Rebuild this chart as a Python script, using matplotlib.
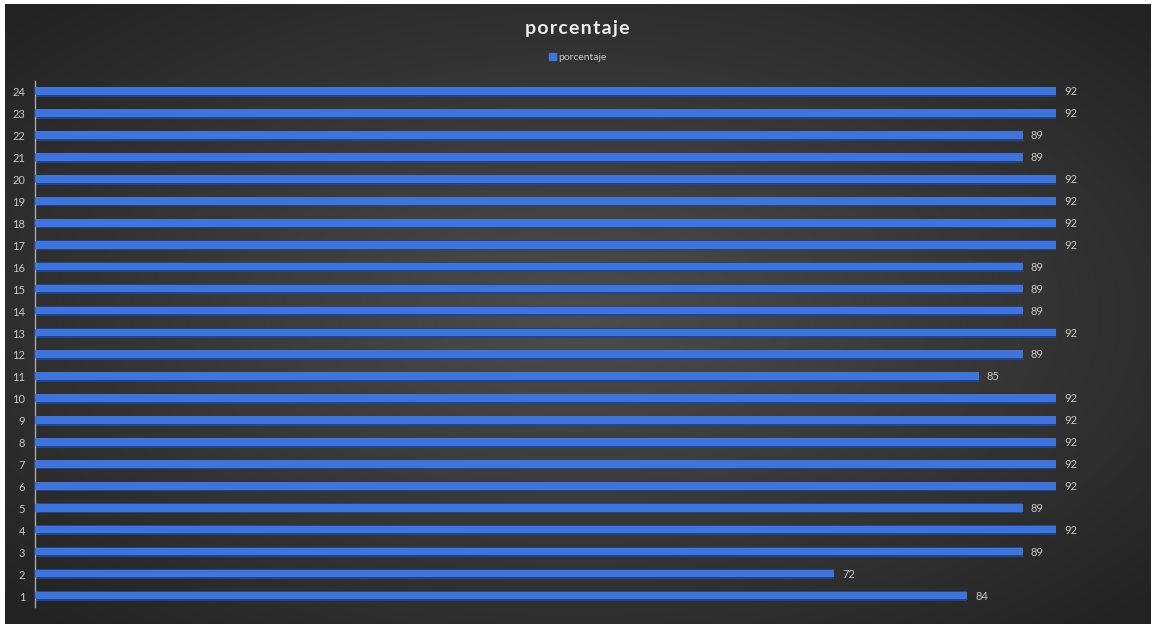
import numpy as np
import matplotlib
matplotlib.use('Agg')
import matplotlib.pyplot as plt
from matplotlib.patches import Rectangle

# datos
categorias = [str(i) for i in range(1, 25)]
porcentaje = [84, 72, 89, 92, 89, 92, 92, 92, 92, 92, 85, 89,
              92, 89, 89, 89, 92, 92, 92, 92, 89, 89, 92, 92]

plt.rcParams['font.family'] = ['Lato', 'DejaVu Sans']

fig = plt.figure(figsize=(11.55, 6.24), dpi=100)
fig.patch.set_facecolor('white')

# fondo oscuro con degradado radial
bg = fig.add_axes([5 / 1155, 0.0, 1146 / 1155, 620 / 624])
bg.set_axis_off()
yy, xx = np.mgrid[-1:1:300j, -1:1:600j]
r = np.sqrt(xx ** 2 + yy ** 2)
t = np.clip(r / 1.35, 0, 1)
centro, borde = 0.30, 0.14
gris = centro + (borde - centro) * t
img = np.dstack([gris, gris, gris])
bg.imshow(img, aspect='auto', extent=[0, 1, 0, 1], interpolation='bilinear')
bg.set_xlim(0, 1)
bg.set_ylim(0, 1)

ax = fig.add_axes([35 / 1155, 17 / 624, 1110 / 1155, 526 / 624])
ax.set_facecolor('none')

y = np.arange(1, len(categorias) + 1)
ax.barh(y, porcentaje, height=0.45, color='#22458f', zorder=2)
ax.barh(y + 0.03, porcentaje, height=0.35, color='#3f74dc', zorder=3)

for yi, v in zip(y, porcentaje):
    ax.text(v + 0.7, yi, str(v), va='center', ha='left',
            fontsize=8, color='#c8c8c8')

ax.set_xlim(0, 100)
ax.set_ylim(0.5, 24.5)
ax.set_yticks(y)
ax.set_yticklabels(categorias)
ax.tick_params(axis='y', length=0, pad=7, labelsize=8, labelcolor='#c8c8c8')
ax.set_xticks([])
for s in ['top', 'right', 'bottom']:
    ax.spines[s].set_visible(False)
ax.spines['left'].set_color('#a8a8a8')
ax.spines['left'].set_linewidth(1.0)

fig.text(0.5, 0.955, '\u200a'.join('porcentaje'), ha='center', va='center',
         fontsize=14, fontweight='bold', color='#ececec')

leg = ax.legend([Rectangle((0, 0), 1, 1, color='#3f74dc')], ['porcentaje'],
                loc='center', bbox_to_anchor=(0.5, 0.908), bbox_transform=fig.transFigure,
                frameon=False, fontsize=7.5, handlelength=0.7, handleheight=0.7,
                handletextpad=0.2, labelcolor='#c8c8c8')

fig.savefig('out.png', dpi=100, facecolor=fig.get_facecolor())
